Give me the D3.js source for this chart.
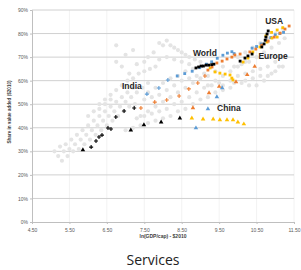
<!DOCTYPE html>
<html lang="en">
  <head>
    <meta charset="utf-8" />
    <title>Services</title>
    <script src="https://d3js.org/d3.v7.min.js"></script>
    <style>
      body { margin: 0; background: #fff; }
      svg { display: block; font-family: "Liberation Sans", Arial, sans-serif; }
    </style>
  </head>
  <body>
    <script>
      // axis ticks
      var xTicks = [4.5, 5.5, 6.5, 7.5, 8.5, 9.5, 10.5, 11.5];
      var yTicks = [0, 10, 20, 30, 40, 50, 60, 70, 80, 90];

      // grey cloud: all other countries, [ln gdp/cap, share %]
      var others = [
        [5.3,26],[5.45,28],[5.6,30],[5.75,31],[5.9,33],[6.05,35],[6.2,37],[6.35,39],[6.5,41],[6.65,43],[6.8,45],[6.95,47],[7.1,49],[7.25,50],
        [5.1,30],[5.25,32],[5.4,33],[5.55,35],[5.7,37],[5.85,39],[6.0,41],[6.15,43],[6.3,45],[6.45,47],[6.6,49],[6.75,51],[6.9,53],[7.05,55],[7.2,57],
        [5.2,28],[5.35,30],[5.5,31],[5.65,33],[5.8,35],[5.95,37],[6.1,39],[6.25,41],[6.4,43],[6.55,45],[6.7,47],[6.85,49],[7.0,51],[7.15,53],[7.3,55],[7.45,57],[7.6,59],
        [6.0,45],[6.15,47],[6.3,48],[6.45,50],[6.6,52],
        [6.3,50],[6.45,52],[6.6,54],[6.75,56],[6.9,58],[7.05,60],[7.2,61],[7.35,63],[7.5,64],[7.65,65],[7.8,66],
        [6.9,66],[6.75,68],[7.0,71],[7.2,73],[6.75,75],[7.3,67],[7.1,63],
        [7.6,70],[7.75,72],[7.5,68],[7.9,69],[8.1,70],[8.3,69],[8.5,68],[8.7,67],
        [7.9,76],[8.0,75],[8.1,77],[8.2,75],[8.3,74],[8.4,73],[8.5,72],[8.6,71],[8.7,70],[8.85,69],[9.0,68],
        [7.4,45],[7.6,47],[7.8,49],[8.0,51],[8.2,53],[8.4,55],[8.6,57],[8.8,59],[9.0,61],[9.2,62],[9.4,64],[9.6,66],
        [7.3,44],[7.5,45],[7.7,46],[7.9,47],[8.1,48],[8.3,50],[8.5,51],[8.7,53],[8.9,55],[9.1,57],[9.3,58],[9.5,59],
        [7.0,39],[7.2,40],[7.4,41],[7.6,42],[7.8,43],[8.0,44],[8.2,45],[8.4,47],[8.6,48],[8.8,50],[9.0,52],[9.2,53],[9.4,55],[9.6,56],[9.8,57],
        [7.5,52],[7.7,53],[7.9,54],[8.1,56],[8.3,58],[8.5,60],[8.7,61],[8.9,62],[9.1,63],
        [7.6,55],[7.8,57],[8.0,59],[8.2,61],[8.4,62],[8.6,64],[8.8,65],[9.0,66],
        [9.8,60],[10.0,62],[10.2,63],[10.4,64],[10.6,65],[10.8,66],[11.0,68],[11.2,70],
        [9.6,58],[9.9,59],[10.1,59],[10.3,58],[10.5,58],[10.7,60],[10.9,63],[11.1,66],
        [10.2,60],[10.4,61],[10.6,62],[10.8,62],[11.0,64],[11.2,66],
        [9.9,66],[10.1,67],[10.3,68],[10.5,70],[10.7,72],[10.9,74],[11.1,76],[11.25,78],
        [10.0,70],[10.2,72],[10.4,74],[10.6,76],[10.8,78],[11.0,80],[11.2,82],
        [9.2,58],[9.4,60],[9.6,62],[9.8,64],[10.0,66],[10.2,68]
      ];

      // highlighted series
      var blackPlus = [[6.08,31.8],[6.21,34.4],[6.29,36.1],[6.37,36.9],[6.53,39.9],[6.61,39.5],[6.74,44.6],[6.96,47.1],[7.23,48.4]];
      var blackTri = [[5.86,30.6],[7.14,39.0],[7.49,41.2],[7.95,42.4],[8.45,44.1]];
      var yellowTri = [[8.77,44.1],[9.07,43.7],[9.34,43.7],[9.52,43.3],[9.71,43.3],[9.87,43.3],[10.0,42.4],[10.16,41.6]];
      var blueTri = [[8.88,39.9],[9.2,48.0],[9.44,53.1],[9.58,56.9]];
      var orangeTri = [[8.8,48.4],[9.23,54.8],[9.5,57.5],[9.95,59.5],[10.25,62.5],[10.45,66]];
      var bluePlus = [[7.57,54.3],[7.89,56.9],[8.13,60.3]];
      var orangePlus = [[7.41,48.4],[7.78,50.9],[8.1,51.8],[8.43,53.5],[8.69,56.5],[8.93,59.0],[9.12,62.0]];
      var blueDots = [[8.38,62.0],[8.58,63.0],[8.78,64.0],[8.98,65.5],[9.16,67.0],[9.3,68.0],[9.45,69.5],[9.6,70.8],[9.72,71.7],[9.84,72.3],[9.9,71.5],
        [10.38,73.8],[10.5,74.5],[10.62,75.6],[10.75,77.0],[10.88,78.3],[11.0,79.5],[11.12,80.0],[11.22,80.5]];
      var yellowDots = [[9.26,65.4],[9.39,63.7],[9.52,63.2],[9.66,62.8],[9.79,62.4],[9.84,61.1],[9.87,60.3],
        [10.14,67.9],[10.27,69.6],[10.4,72.2],[10.59,74.3],[10.78,76.4],[10.91,78.1],[11.05,78.5],
        [10.75,79],[10.9,80.5],[11.05,81.5],[11.2,82.5]];
      var orangeDots = [[9.2,64.5],[9.31,65.8],[9.44,67.5],[9.58,68.3],[9.71,69.2],[9.84,70.0],[9.92,70.9],[10.06,71.3],
        [10.32,72.2],[10.48,73.4],[10.64,75.1],[10.81,76.8],[10.97,78.5],[11.13,80.2],[11.26,81.9],[11.37,83.2]];
      var blackDots = [[8.88,65.4],[8.95,65.8],[9.02,66.2],[9.08,66.2],[9.15,66.6],[9.22,66.6],[9.3,66.8],[9.36,67.0],
        [10.06,68.3],[10.19,69.6],[10.27,70.5],[10.38,71.3],
        [10.64,74.3],[10.7,75.6],[10.73,77.2],[10.75,78.5],[10.78,79.8],[10.81,81.1]];

      var labels = [
        ["India", 7.17, 56.3],
        ["World", 9.12, 70.5],
        ["USA", 10.97, 84],
        ["Europe", 10.94, 69.2],
        ["China", 9.76, 47.1]
      ];

      var width = 301, height = 270;
      var svg = d3.select("body").append("svg")
        .attr("width", width)
        .attr("height", height);

      var x = d3.scaleLinear().domain([4.5, 11.5]).range([32, 294]);
      var y = d3.scaleLinear().domain([0, 90]).range([222, 10]);

      // vertical grid
      svg.append("g")
        .selectAll("line")
        .data(xTicks.slice(1))
        .enter()
        .append("line")
        .attr("x1", function (d) { return x(d); })
        .attr("x2", function (d) { return x(d); })
        .attr("y1", y(90))
        .attr("y2", y(0))
        .style("stroke", "#efefef")
        .style("stroke-width", 0.8);

      // horizontal grid
      svg.append("g")
        .selectAll("line")
        .data(yTicks.slice(1))
        .enter()
        .append("line")
        .attr("x1", x(4.5))
        .attr("x2", x(11.5))
        .attr("y1", function (d) { return y(d); })
        .attr("y2", function (d) { return y(d); })
        .style("stroke", "#d0d0d0")
        .style("stroke-width", 1);

      // axes
      var xAxis = d3.axisBottom(x).tickValues(xTicks).tickSize(2).tickFormat(d3.format(".2f"));
      var yAxis = d3.axisLeft(y).tickValues(yTicks).tickSize(2).tickFormat(function (d) { return d + "%"; });

      var gx = svg.append("g").attr("transform", "translate(0," + y(0) + ")").call(xAxis);
      var gy = svg.append("g").attr("transform", "translate(" + x(4.5) + ",0)").call(yAxis);
      [gx, gy].forEach(function (g) {
        g.select(".domain").style("stroke", "#bfbfbf");
        g.selectAll(".tick line").style("stroke", "#bfbfbf");
        g.selectAll("text").style("fill", "#595959").style("font-size", "5px");
      });
      gx.selectAll("text").attr("dy", "0.9em");
      gy.selectAll("text").attr("x", -4);

      // axis titles
      svg.append("text")
        .attr("x", 163)
        .attr("y", 238)
        .attr("text-anchor", "middle")
        .style("font-size", "5px")
        .style("font-weight", "bold")
        .style("fill", "#404040")
        .text("ln(GDP/cap) - $2010");

      svg.append("text")
        .attr("transform", "translate(11,112) rotate(-90)")
        .attr("text-anchor", "middle")
        .style("font-size", "4.6px")
        .style("font-weight", "bold")
        .style("fill", "#404040")
        .text("Share in value added ($2010)");

      // grey cloud
      svg.append("g")
        .selectAll("circle")
        .data(others)
        .enter()
        .append("circle")
        .attr("cx", function (d) { return x(d[0]); })
        .attr("cy", function (d) { return y(d[1]); })
        .attr("r", 2.1)
        .style("fill", "#e4e4e4");

      function plus(data, color) {
        svg.append("g")
          .selectAll("path")
          .data(data)
          .enter()
          .append("path")
          .attr("d", function (d) {
            var cx = x(d[0]), cy = y(d[1]), s = 2;
            return "M" + (cx - s) + "," + cy + "H" + (cx + s) + "M" + cx + "," + (cy - s) + "V" + (cy + s);
          })
          .style("stroke", color)
          .style("stroke-width", 1.1)
          .style("fill", "none");
      }

      function marks(data, color, type, size) {
        var sym = d3.symbol().type(type).size(size);
        svg.append("g")
          .selectAll("path")
          .data(data)
          .enter()
          .append("path")
          .attr("transform", function (d) { return "translate(" + x(d[0]) + "," + y(d[1]) + ")"; })
          .attr("d", sym)
          .style("fill", color);
      }

      marks(blueTri, "#5b9bd5", d3.symbolTriangle, 9);
      marks(orangeTri, "#ed7d31", d3.symbolTriangle, 9);
      marks(yellowTri, "#ffc000", d3.symbolTriangle, 9);
      marks(blackTri, "#000", d3.symbolTriangle, 9);
      plus(bluePlus, "#5b9bd5");
      plus(orangePlus, "#ed7d31");
      plus(blackPlus, "#000");
      marks(blueDots, "#5b9bd5", d3.symbolSquare, 8);
      marks(yellowDots, "#ffc000", d3.symbolSquare, 8);
      marks(orangeDots, "#ed7d31", d3.symbolSquare, 8);
      marks(blackDots, "#000", d3.symbolSquare, 8);

      // country labels
      svg.append("g")
        .selectAll("text")
        .data(labels)
        .enter()
        .append("text")
        .attr("x", function (d) { return x(d[1]); })
        .attr("y", function (d) { return y(d[2]); })
        .attr("text-anchor", "middle")
        .style("font-size", "8.5px")
        .style("font-weight", "bold")
        .style("fill", "#262626")
        .text(function (d) { return d[0]; });

      // chart title
      svg.append("text")
        .attr("x", 153)
        .attr("y", 265)
        .attr("text-anchor", "middle")
        .style("font-size", "14px")
        .style("fill", "#222")
        .style("font-family", "'Open Sans', 'Liberation Sans', sans-serif")
        .text("Services");
    </script>
  </body>
</html>
